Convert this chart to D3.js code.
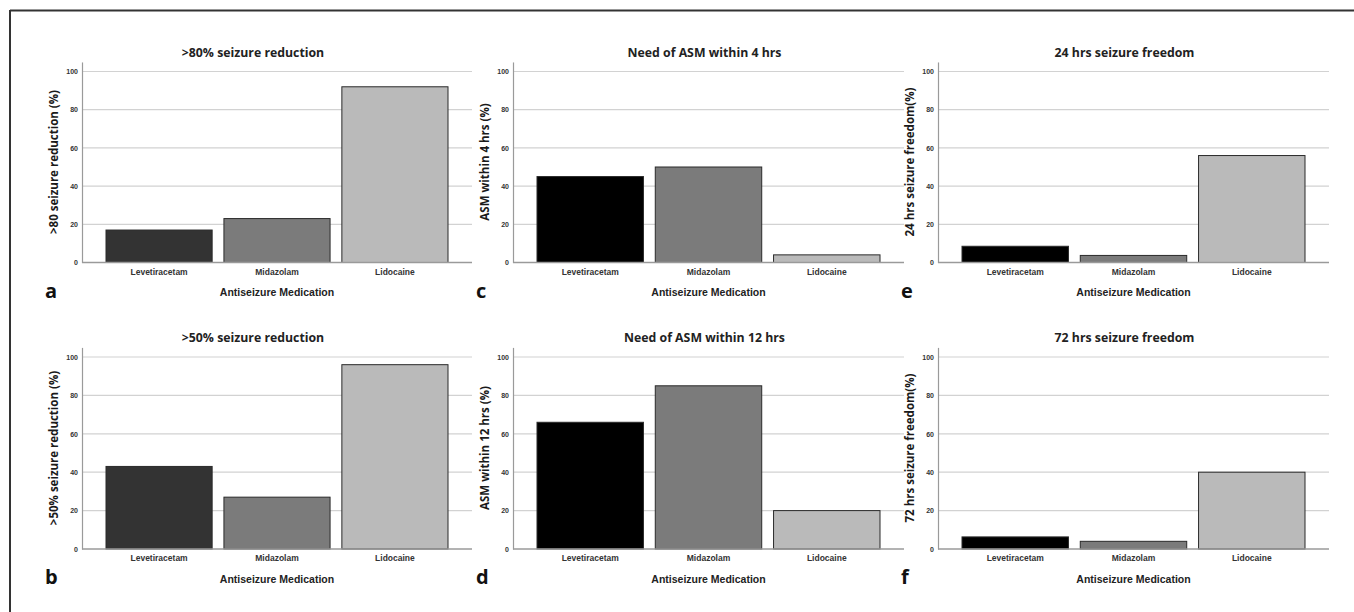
<!DOCTYPE html>
<html>
<head>
<meta charset="utf-8">
<script src="https://cdn.jsdelivr.net/npm/d3@7"></script>
<style>
  body { margin: 0; background: #fff; }
  svg { display: block; }
</style>
</head>
<body>
<script>
// data
var medications = ["Levetiracetam", "Midazolam", "Lidocaine"];
var yTicks = [0, 20, 40, 60, 80, 100];
var xTitle = "Antiseizure Medication";

var panelLetters = ["a", "b", "c", "d", "e", "f"];
var panelTitles = [">80% seizure reduction", ">50% seizure reduction",
                   "Need of ASM within 4 hrs", "Need of ASM within 12 hrs",
                   "24 hrs seizure freedom", "72 hrs seizure freedom"];
var yTitles = [">80 seizure reduction (%)", ">50% seizure reduction (%)",
               "ASM within 4 hrs (%)", "ASM within 12 hrs (%)",
               "24 hrs seizure freedom(%)", "72 hrs seizure freedom(%)"];

var reduction80 = [17, 23, 92];
var reduction50 = [43, 27, 96];
var asm4hrs = [45, 50, 4];
var asm12hrs = [66, 85, 20];
var freedom24 = [8.5, 3.7, 56];
var freedom72 = [6.3, 4, 40];
var panelValues = [reduction80, reduction50, asm4hrs, asm12hrs, freedom24, freedom72];

window.onload = function() {
	draw();
};

function draw() {
	var W = 1354, H = 612;

	var svg = d3.select("body")
	            .append("svg")
	            .attr("width", W)
	            .attr("height", H);

	// frame (only top and left visible)
	svg.append("line")
	   .attr("x1", 10).attr("x2", W).attr("y1", 10.5).attr("y2", 10.5)
	   .attr("stroke", "#333").attr("stroke-width", 2);
	svg.append("line")
	   .attr("x1", 10).attr("x2", 10).attr("y1", 10).attr("y2", H)
	   .attr("stroke", "#333").attr("stroke-width", 2);

	// layout for columns / rows
	var cols = [{axisX: 82, endX: 472, titleShift: -24},
	            {axisX: 513, endX: 904, titleShift: -4},
	            {axisX: 938, endX: 1329, titleShift: -9}];
	var rows = [{base: 262.5, top100: 71.5},
	            {base: 549, top100: 357}];

	var darkFirst = ["#333333", "#333333", "#000000", "#000000", "#000000", "#000000"];

	for (let i = 0; i < 6; i++) {
		var col = cols[Math.floor(i / 2)];
		var row = rows[i % 2];
		makePanel(i, col, row);
	}

	function makePanel(i, col, row) {
		var values = panelValues[i];
		var colors = [darkFirst[i], "#7b7b7b", "#bababa"];

		var yScale = d3.scaleLinear()
		               .domain([0, 100])
		               .range([row.base, row.top100]);

		var xScale = d3.scaleBand()
		               .domain(medications)
		               .range([col.axisX + 24, col.endX - 24])
		               .paddingInner(0.1)
		               .paddingOuter(0);

		var g = svg.append("g");

		// gridlines
		g.selectAll(".grid")
		 .data(yTicks.slice(1))
		 .enter()
		 .append("line")
		 .attr("x1", col.axisX)
		 .attr("x2", col.endX)
		 .attr("y1", function(d) { return yScale(d); })
		 .attr("y2", function(d) { return yScale(d); })
		 .attr("stroke", "#d2d2d2")
		 .attr("stroke-width", 1.2);

		// y axis (runs a little above 100)
		var axisScale = yScale.copy().domain([0, 105]).range([row.base, yScale(105)]);
		var yAxis = g.append("g")
		             .attr("transform", "translate(" + col.axisX + ",0)")
		             .call(d3.axisLeft(axisScale).tickValues(yTicks).tickSize(0).tickPadding(4));
		yAxis.select(".domain").attr("stroke", "#9a9a9a").attr("stroke-width", 1.2);
		yAxis.selectAll("text")
		     .attr("font-family", "Liberation Sans, Arial, sans-serif")
		     .attr("font-weight", "bold")
		     .attr("font-size", "7px")
		     .attr("fill", "#333");

		// bars
		g.selectAll(".bar")
		 .data(values)
		 .enter()
		 .append("rect")
		 .attr("x", function(d, j) { return xScale(medications[j]); })
		 .attr("y", function(d) { return yScale(d); })
		 .attr("width", xScale.bandwidth())
		 .attr("height", function(d) { return row.base - yScale(d); })
		 .attr("fill", function(d, j) { return colors[j]; })
		 .attr("stroke", "#2a2a2a")
		 .attr("stroke-width", 1);

		// x axis
		var xAxis = g.append("g")
		             .attr("transform", "translate(0," + row.base + ")")
		             .call(d3.axisBottom(xScale).tickSize(0).tickPadding(6));
		xAxis.select(".domain").remove();
		g.append("line")
		 .attr("x1", col.axisX).attr("x2", col.endX)
		 .attr("y1", row.base).attr("y2", row.base)
		 .attr("stroke", "#9a9a9a").attr("stroke-width", 1.4);
		xAxis.selectAll("text")
		     .attr("font-family", "Liberation Sans, Arial, sans-serif")
		     .attr("font-weight", "bold")
		     .attr("font-size", "8.5px")
		     .attr("fill", "#333");

		// chart title
		g.append("text")
		 .attr("x", (col.axisX + col.endX) / 2 + col.titleShift)
		 .attr("y", row.top100 - 15)
		 .attr("text-anchor", "middle")
		 .attr("font-family", "Open Sans, sans-serif")
		 .attr("font-weight", "bold")
		 .attr("font-size", "12.3px")
		 .attr("fill", "#222")
		 .text(panelTitles[i]);

		// x axis title
		g.append("text")
		 .attr("x", (col.axisX + col.endX) / 2)
		 .attr("y", row.base + 33.5)
		 .attr("text-anchor", "middle")
		 .attr("font-family", "Liberation Sans, Arial, sans-serif")
		 .attr("font-weight", "bold")
		 .attr("font-size", "10.5px")
		 .attr("fill", "#222")
		 .text(xTitle);

		// y axis title
		var midY = (row.base + row.top100 - 10) / 2;
		g.append("text")
		 .attr("transform", "translate(" + (col.axisX - 24) + "," + midY + ") rotate(-90)")
		 .attr("text-anchor", "middle")
		 .attr("font-family", "Open Sans, sans-serif")
		 .attr("font-weight", "bold")
		 .attr("font-size", "11.5px")
		 .attr("fill", "#1a1a1a")
		 .text(yTitles[i]);

		// panel letter
		g.append("text")
		 .attr("x", col.axisX - 37)
		 .attr("y", row.base + 35)
		 .attr("font-family", "Open Sans, sans-serif")
		 .attr("font-weight", "bold")
		 .attr("font-size", "20px")
		 .attr("fill", "#111")
		 .text(panelLetters[i]);
	}
}
</script>
</body>
</html>
